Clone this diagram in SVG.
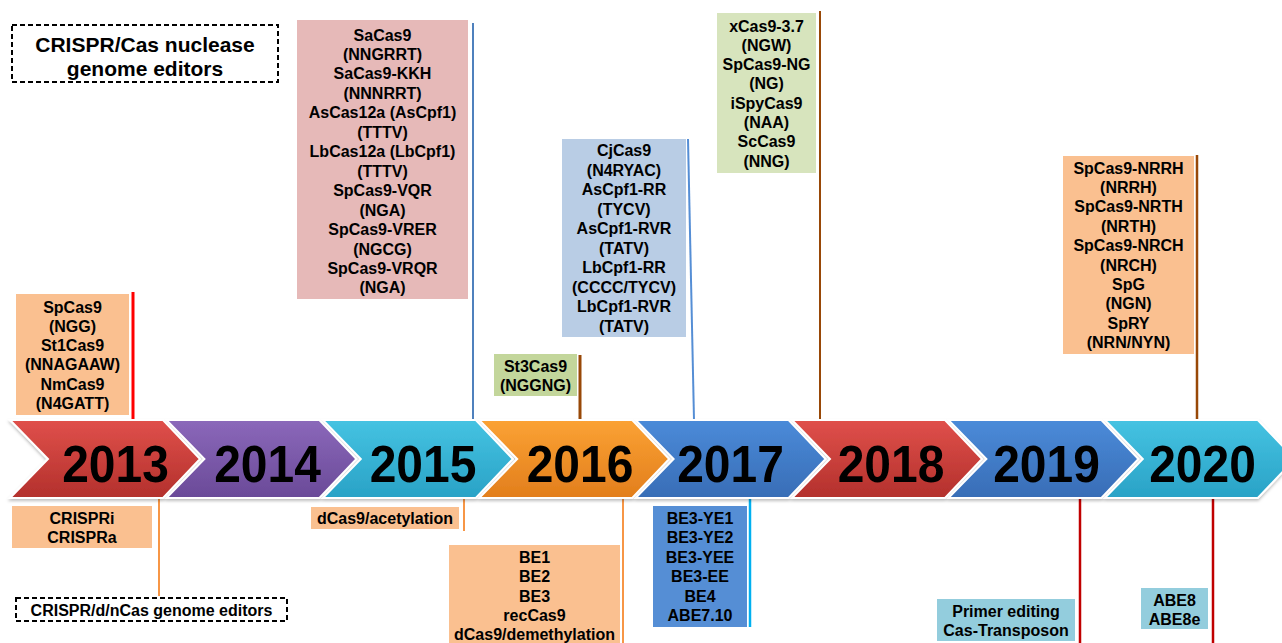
<svg xmlns="http://www.w3.org/2000/svg" width="1282" height="643" viewBox="0 0 1282 643">
<defs>
<linearGradient id="gRed" x1="0" y1="0" x2="0" y2="1"><stop offset="0" stop-color="#e0504b"/><stop offset="1" stop-color="#b3302c"/></linearGradient>
<linearGradient id="gPur" x1="0" y1="0" x2="0" y2="1"><stop offset="0" stop-color="#8b68ba"/><stop offset="1" stop-color="#6a4a98"/></linearGradient>
<linearGradient id="gCyan" x1="0" y1="0" x2="0" y2="1"><stop offset="0" stop-color="#45c3e2"/><stop offset="1" stop-color="#29a2c6"/></linearGradient>
<linearGradient id="gOra" x1="0" y1="0" x2="0" y2="1"><stop offset="0" stop-color="#fba234"/><stop offset="1" stop-color="#e27e1c"/></linearGradient>
<linearGradient id="gBlue" x1="0" y1="0" x2="0" y2="1"><stop offset="0" stop-color="#4b8bd9"/><stop offset="1" stop-color="#386db6"/></linearGradient>
<filter id="sh" x="-5%" y="-10%" width="110%" height="130%"><feDropShadow dx="0" dy="2" stdDeviation="1.5" flood-color="#000" flood-opacity="0.25"/></filter>
</defs>
<style>
text{font-family:"Liberation Sans",Arial,sans-serif;font-weight:bold;fill:#000;text-anchor:middle}
.t{font-size:16px}
.yr{font-size:48px}
.chev{stroke:#fff;stroke-width:2}
.dash{fill:none;stroke:#000;stroke-width:2;stroke-dasharray:5 3}
line{fill:none}
</style>
<rect width="1282" height="643" fill="#fff"/>

<g id="connectors">
<line x1="133" y1="292" x2="133" y2="420" stroke="#ff0000" stroke-width="3"/>
<line x1="473" y1="23" x2="473" y2="420" stroke="#4f81bd" stroke-width="2"/>
<line x1="580" y1="355" x2="580" y2="420" stroke="#984807" stroke-width="3"/>
<line x1="688" y1="139" x2="694" y2="420" stroke="#558ed5" stroke-width="2"/>
<line x1="820" y1="11" x2="820" y2="420" stroke="#984807" stroke-width="2"/>
<line x1="1197" y1="155" x2="1197" y2="420" stroke="#984807" stroke-width="2.5"/>
<line x1="159" y1="498" x2="159" y2="596" stroke="#f79646" stroke-width="2"/>
<line x1="464" y1="498" x2="464" y2="531" stroke="#f79646" stroke-width="2"/>
<line x1="623" y1="498" x2="623" y2="643" stroke="#f79646" stroke-width="2"/>
<line x1="750" y1="498" x2="750" y2="627" stroke="#00b0f0" stroke-width="2.5"/>
<line x1="1080" y1="498" x2="1080" y2="643" stroke="#c00000" stroke-width="2.5"/>
<line x1="1213" y1="498" x2="1213" y2="643" stroke="#c00000" stroke-width="2.5"/>
</g>

<g id="timeline" filter="url(#sh)">
<g id="y2013"><path class="chev" fill="url(#gRed)" d="M10,420 L163,420 L200,459 L163,498 L10,498 L48,459 Z"/><text class="yr" transform="translate(115.5,482) scale(1,1.08)">2013</text></g>
<g id="y2014"><path class="chev" fill="url(#gPur)" d="M166.4,420 L319.4,420 L356.4,459 L319.4,498 L166.4,498 L204.4,459 Z"/><text class="yr" transform="translate(267.5,482) scale(1,1.08)">2014</text></g>
<g id="y2015"><path class="chev" fill="url(#gCyan)" d="M322.8,420 L475.8,420 L512.8,459 L475.8,498 L322.8,498 L360.8,459 Z"/><text class="yr" transform="translate(423,482) scale(1,1.08)">2015</text></g>
<g id="y2016"><path class="chev" fill="url(#gOra)" d="M479.2,420 L632.2,420 L669.2,459 L632.2,498 L479.2,498 L517.2,459 Z"/><text class="yr" transform="translate(580,482) scale(1,1.08)">2016</text></g>
<g id="y2017"><path class="chev" fill="url(#gBlue)" d="M635.6,420 L788.6,420 L825.6,459 L788.6,498 L635.6,498 L673.6,459 Z"/><text class="yr" transform="translate(730.5,482) scale(1,1.08)">2017</text></g>
<g id="y2018"><path class="chev" fill="url(#gRed)" d="M792,420 L945,420 L982,459 L945,498 L792,498 L830,459 Z"/><text class="yr" transform="translate(891,482) scale(1,1.08)">2018</text></g>
<g id="y2019"><path class="chev" fill="url(#gBlue)" d="M948.4,420 L1101.4,420 L1138.4,459 L1101.4,498 L948.4,498 L986.4,459 Z"/><text class="yr" transform="translate(1046.5,482) scale(1,1.08)">2019</text></g>
<g id="y2020"><path class="chev" fill="url(#gCyan)" d="M1104.8,420 L1257.8,420 L1294.8,459 L1257.8,498 L1104.8,498 L1142.8,459 Z"/><text class="yr" transform="translate(1202.5,482) scale(1,1.08)">2020</text></g>
</g>

<g id="legend-top"><rect class="dash" x="12" y="25" width="266" height="57"/>
<text style="font-size:21px" x="145" y="51.5">CRISPR/Cas nuclease</text><text style="font-size:21px" x="145" y="75.5">genome editors</text></g>

<g id="legend-bottom"><rect class="dash" x="16" y="598" width="271" height="23"/>
<text style="font-size:16px" x="151.5" y="615.5">CRISPR/d/nCas genome editors</text></g>

<g id="n2013top"><rect x="16" y="294" width="113" height="121" fill="#fac090"/>
<text class="t"><tspan x="72.5" y="312.5">SpCas9</tspan><tspan x="72.5" dy="19.3">(NGG)</tspan><tspan x="72.5" dy="19.3">St1Cas9</tspan><tspan x="72.5" dy="19.3">(NNAGAAW)</tspan><tspan x="72.5" dy="19.3">NmCas9</tspan><tspan x="72.5" dy="19.3">(N4GATT)</tspan></text></g>

<g id="n2015top"><rect x="297" y="20" width="171" height="279" fill="#e6b9b8"/>
<text class="t"><tspan x="382.5" y="40.5">SaCas9</tspan><tspan x="382.5" dy="19.46">(NNGRRT)</tspan><tspan x="382.5" dy="19.46">SaCas9-KKH</tspan><tspan x="382.5" dy="19.46">(NNNRRT)</tspan><tspan x="382.5" dy="19.46">AsCas12a (AsCpf1)</tspan><tspan x="382.5" dy="19.46">(TTTV)</tspan><tspan x="382.5" dy="19.46">LbCas12a (LbCpf1)</tspan><tspan x="382.5" dy="19.46">(TTTV)</tspan><tspan x="382.5" dy="19.46">SpCas9-VQR</tspan><tspan x="382.5" dy="19.46">(NGA)</tspan><tspan x="382.5" dy="19.46">SpCas9-VRER</tspan><tspan x="382.5" dy="19.46">(NGCG)</tspan><tspan x="382.5" dy="19.46">SpCas9-VRQR</tspan><tspan x="382.5" dy="19.46">(NGA)</tspan></text></g>

<g id="n2016top"><rect x="494" y="354" width="83" height="42" fill="#c3d69b"/>
<text class="t"><tspan x="535.5" y="371.5">St3Cas9</tspan><tspan x="535.5" dy="19">(NGGNG)</tspan></text></g>

<g id="n2017top"><rect x="562" y="139" width="124" height="198" fill="#b9cde5"/>
<text class="t"><tspan x="624" y="156.2">CjCas9</tspan><tspan x="624" dy="19.5">(N4RYAC)</tspan><tspan x="624" dy="19.5">AsCpf1-RR</tspan><tspan x="624" dy="19.5">(TYCV)</tspan><tspan x="624" dy="19.5">AsCpf1-RVR</tspan><tspan x="624" dy="19.5">(TATV)</tspan><tspan x="624" dy="19.5">LbCpf1-RR</tspan><tspan x="624" dy="19.5">(CCCC/TYCV)</tspan><tspan x="624" dy="19.5">LbCpf1-RVR</tspan><tspan x="624" dy="19.5">(TATV)</tspan></text></g>

<g id="n2018top"><rect x="717" y="13" width="99" height="160" fill="#d7e4bd"/>
<text class="t"><tspan x="766.5" y="31.5">xCas9-3.7</tspan><tspan x="766.5" dy="19.3">(NGW)</tspan><tspan x="766.5" dy="19.3">SpCas9-NG</tspan><tspan x="766.5" dy="19.3">(NG)</tspan><tspan x="766.5" dy="19.3">iSpyCas9</tspan><tspan x="766.5" dy="19.3">(NAA)</tspan><tspan x="766.5" dy="19.3">ScCas9</tspan><tspan x="766.5" dy="19.3">(NNG)</tspan></text></g>

<g id="n2020top"><rect x="1063" y="156" width="131" height="198" fill="#fac090"/>
<text class="t"><tspan x="1128.5" y="173.5">SpCas9-NRRH</tspan><tspan x="1128.5" dy="19.4">(NRRH)</tspan><tspan x="1128.5" dy="19.4">SpCas9-NRTH</tspan><tspan x="1128.5" dy="19.4">(NRTH)</tspan><tspan x="1128.5" dy="19.4">SpCas9-NRCH</tspan><tspan x="1128.5" dy="19.4">(NRCH)</tspan><tspan x="1128.5" dy="19.4">SpG</tspan><tspan x="1128.5" dy="19.4">(NGN)</tspan><tspan x="1128.5" dy="19.4">SpRY</tspan><tspan x="1128.5" dy="19.4">(NRN/NYN)</tspan></text></g>

<g id="n2013bottom"><rect x="12" y="506" width="140" height="42" fill="#fac090"/>
<text class="t"><tspan x="82" y="523.5">CRISPRi</tspan><tspan x="82" dy="19.4">CRISPRa</tspan></text></g>

<g id="n2015bottom"><rect x="311" y="507" width="148" height="22" fill="#fac090"/>
<text class="t" x="385" y="523.5">dCas9/acetylation</text></g>

<g id="n2016bottom"><rect x="449" y="545" width="171" height="98" fill="#fac090"/>
<text class="t"><tspan x="534.5" y="563">BE1</tspan><tspan x="534.5" dy="19.3">BE2</tspan><tspan x="534.5" dy="19.3">BE3</tspan><tspan x="534.5" dy="19.3">recCas9</tspan><tspan x="534.5" dy="19.3">dCas9/demethylation</tspan></text></g>

<g id="n2017bottom"><rect x="653" y="506" width="94" height="121" fill="#558ed5"/>
<text class="t"><tspan x="700" y="524">BE3-YE1</tspan><tspan x="700" dy="19.4">BE3-YE2</tspan><tspan x="700" dy="19.4">BE3-YEE</tspan><tspan x="700" dy="19.4">BE3-EE</tspan><tspan x="700" dy="19.4">BE4</tspan><tspan x="700" dy="19.4">ABE7.10</tspan></text></g>

<g id="n2019bottom"><rect x="937" y="599" width="138" height="42" fill="#93cddd"/>
<text class="t"><tspan x="1006" y="616.7">Primer editing</tspan><tspan x="1006" dy="19.3">Cas-Transposon</tspan></text></g>

<g id="n2020bottom"><rect x="1141" y="588" width="67" height="41" fill="#93cddd"/>
<text class="t"><tspan x="1174.5" y="606">ABE8</tspan><tspan x="1174.5" dy="19.3">ABE8e</tspan></text></g>
</svg>
